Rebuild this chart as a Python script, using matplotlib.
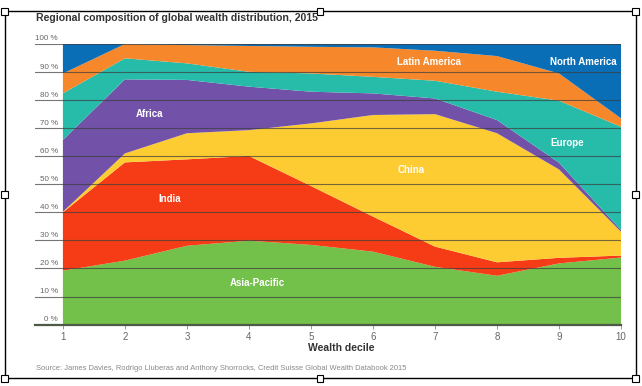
import matplotlib
matplotlib.use("Agg")
import matplotlib.pyplot as plt
import matplotlib.transforms as mtransforms
from matplotlib.patches import Rectangle

plt.rcParams['font.family'] = ['Liberation Sans', 'DejaVu Sans']

deciles = [1, 2, 3, 4, 5, 6, 7, 8, 9, 10]
regions = ["Asia-Pacific", "India", "China", "Africa", "Europe", "Latin America", "North America"]
asia_pacific  = [19.2, 22.8, 28.1, 29.9, 28.4, 26.0, 20.6, 17.4, 21.8, 23.9]
india         = [20.8, 35.0, 30.8, 30.2, 21.0, 12.5, 7.2, 4.8, 2.0, 0.7]
china         = [0.2, 3.2, 9.3, 9.2, 22.3, 36.2, 47.2, 46.0, 31.5, 8.5]
africa        = [25.6, 26.4, 19.0, 15.5, 11.3, 7.7, 5.6, 4.7, 2.4, 0.6]
europe        = [16.6, 7.5, 5.9, 5.3, 6.5, 5.9, 6.3, 10.1, 22.1, 36.8]
latin_america = [7.1, 5.1, 6.5, 9.2, 9.5, 10.5, 10.7, 12.7, 9.7, 3.0]
north_america = [10.5, 0.0, 0.4, 0.7, 1.0, 1.2, 2.4, 4.3, 10.5, 26.5]
series = [asia_pacific, india, china, africa, europe, latin_america, north_america]
colors = ["#73C04B", "#F53C17", "#FDCB32", "#7252A8", "#27BCAA", "#F6872B", "#0A6EB6"]

yticks = [0, 10, 20, 30, 40, 50, 60, 70, 80, 90, 100]
ytick_labels = [f"{v} %" for v in yticks]

# label positions (data coords)
label_pos = {
    "Asia-Pacific": (4.13, 14.7),
    "India": (2.72, 44.9),
    "China": (6.61, 55.0),
    "Africa": (2.40, 74.9),
    "Europe": (9.13, 64.6),
    "Latin America": (6.91, 93.6),
    "North America": (9.39, 93.6),
}

W, H = 642, 386
fig = plt.figure(figsize=(W / 100, H / 100), dpi=100)
ax = fig.add_axes([35 / W, (H - 324.6) / H, (621 - 35) / W, (324.6 - 44) / H])

ax.stackplot(deciles, *series, colors=colors, linewidth=0, zorder=1)
ax.set_xlim(0.55, 10)
ax.set_ylim(0, 100)

ax.set_yticks(yticks)
ax.set_yticklabels([])
ax.tick_params(axis='y', length=0)
ax.yaxis.grid(True, color="#3c3c3c", linewidth=0.8, alpha=0.7, zorder=3)
ax.set_axisbelow(False)

ax.set_xticks(deciles)
ax.set_xticklabels([str(d) for d in deciles], fontsize=7, color="#666666")
ax.tick_params(axis='x', length=3, width=0.6, color="#888888", pad=2)

for s in ["top", "right", "left"]:
    ax.spines[s].set_visible(False)
ax.spines["bottom"].set_color("#4d5a48")
ax.spines["bottom"].set_linewidth(1.6)
ax.spines["bottom"].set_zorder(4)

trans = mtransforms.offset_copy(ax.get_yaxis_transform(), fig=fig, x=0, y=5, units='dots')
for v, lab in zip(yticks, ytick_labels):
    ax.text((58 - 35) / (621 - 35), v, lab, transform=trans, ha='right', va='center',
            fontsize=5.8, color="#666666")

for name in regions:
    x, y = label_pos[name]
    ax.text(x, y, name, ha='center', va='center', fontsize=7, fontweight='bold',
            color="white", zorder=5)

ax.set_xlabel("Wealth decile", fontsize=7.5, fontweight='bold', color="#333333")
ax.xaxis.set_label_coords((341 - 35) / (621 - 35), -(348.3 - 324.6) / (324.6 - 44))
ax.xaxis.label.set_va('center')

fig.text(36 / W, 1 - 18 / H, "Regional composition of global wealth distribution, 2015",
         fontsize=7.6, fontweight='bold', color="#333333", ha='left', va='center')
fig.text(36 / W, 1 - 368.3 / H,
         "Source: James Davies, Rodrigo Lluberas and Anthony Shorrocks, Credit Suisse Global Wealth Databook 2015",
         fontsize=5.4, color="#888888", ha='left', va='center')

# selection frame with handles
fl, fr, ft, fb = 4.5, 635.5, 11, 378
fig.add_artist(Rectangle((fl / W, 1 - fb / H), (fr - fl) / W, (fb - ft) / H,
                         transform=fig.transFigure, fill=False, edgecolor="black", linewidth=1.0))
hs = 7
for hx in [fl, (fl + fr) / 2, fr]:
    for hy in [ft, (ft + fb) / 2, fb]:
        if hx == (fl + fr) / 2 and hy == (ft + fb) / 2:
            continue
        fig.add_artist(Rectangle(((hx - hs / 2) / W, 1 - (hy + hs / 2) / H), hs / W, hs / H,
                                 transform=fig.transFigure, facecolor="white",
                                 edgecolor="black", linewidth=0.8))

fig.savefig("out.png", dpi=100)
